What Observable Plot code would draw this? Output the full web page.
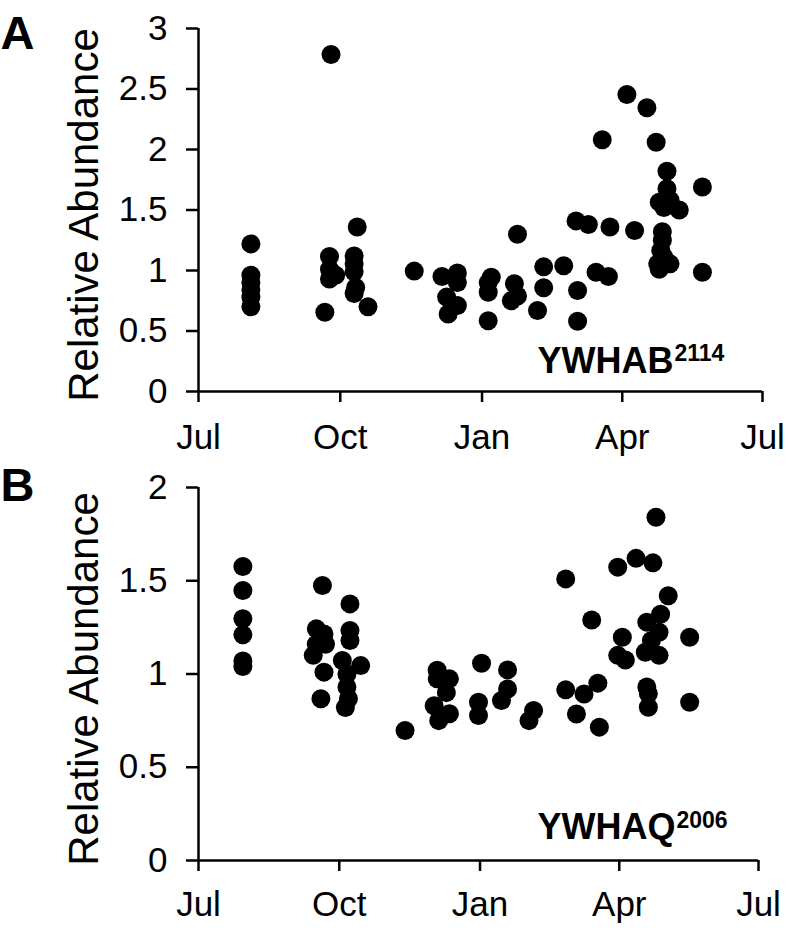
<!DOCTYPE html>
<html>
<head>
<meta charset="utf-8">
<script src="https://cdn.jsdelivr.net/npm/d3@7"></script>
<script src="https://cdn.jsdelivr.net/npm/@observablehq/plot@0.6"></script>
<style>
  html, body { margin: 0; padding: 0; background: #fff; }
  #wrap { width: 788px; }
  #wrap svg { display: block; }
</style>
</head>
<body>
<div id="wrap"></div>
<script>
// ---- Axis ticks ----
const monthTicks = ["2011-07-01", "2011-10-01", "2012-01-01", "2012-04-01", "2012-07-01"];
const yTicksA = [0, 0.5, 1, 1.5, 2, 2.5, 3];
const yTicksB = [0, 0.5, 1, 1.5, 2];

// ---- Panel A: YWHAB (2114) ----
const abDates = [
  "2011-08-04","2011-08-04","2011-08-04","2011-08-04","2011-08-04","2011-08-04",
  "2011-09-21","2011-09-24","2011-09-24","2011-09-24","2011-09-25","2011-09-28",
  "2011-10-10","2011-10-10","2011-10-10","2011-10-10","2011-10-11","2011-10-12","2011-10-19",
  "2011-11-18","2011-12-06","2011-12-09","2011-12-10","2011-12-16","2011-12-16","2011-12-16",
  "2012-01-05","2012-01-05","2012-01-05","2012-01-07","2012-01-24","2012-01-24","2012-01-22","2012-01-20",
  "2012-02-06","2012-02-10","2012-02-10","2012-02-23",
  "2012-03-02","2012-03-03","2012-03-03","2012-03-10","2012-03-15","2012-03-19","2012-03-23","2012-03-24",
  "2012-04-04","2012-04-09","2012-04-17","2012-04-23","2012-04-30","2012-04-30",
  "2012-04-25","2012-04-25","2012-04-28","2012-04-28","2012-05-08","2012-05-02","2012-05-02",
  "2012-04-27","2012-04-27","2012-04-26","2012-04-24","2012-05-23","2012-05-23"
];
const abValues = [
  1.22, 0.96, 0.90, 0.84, 0.78, 0.70,
  0.655, 1.115, 1.01, 0.93, 2.785, 0.96,
  1.12, 1.055, 0.99, 0.81, 0.86, 1.36, 0.70,
  0.995, 0.95, 0.78, 0.64, 0.98, 0.90, 0.71,
  0.90, 0.82, 0.585, 0.945, 1.30, 0.79, 0.89, 0.75,
  0.67, 1.03, 0.857, 1.04,
  1.41, 0.835, 0.58, 1.38, 0.985, 2.08, 0.95, 1.36,
  2.455, 1.33, 2.345, 2.06, 1.82, 1.675,
  1.565, 1.01, 1.52, 1.11, 1.50, 1.58, 1.055,
  1.32, 1.25, 1.165, 1.055, 1.69, 0.985
];

// ---- Panel B: YWHAQ (2006) ----
const aqDates = [
  "2011-07-30","2011-07-30","2011-07-30","2011-07-30","2011-07-30","2011-07-30",
  "2011-09-20","2011-10-08","2011-10-08","2011-10-08","2011-09-16","2011-09-16",
  "2011-09-21","2011-09-21","2011-09-22","2011-09-14","2011-09-19","2011-10-03","2011-10-15",
  "2011-10-06","2011-10-06","2011-10-07","2011-10-05",
  "2011-11-13","2011-12-04","2011-12-04","2011-12-12","2011-12-12","2011-12-10","2011-12-02","2011-12-05",
  "2012-01-02","2011-12-31","2011-12-31","2012-01-19","2012-01-19","2012-01-15","2012-02-05","2012-02-02",
  "2012-02-26","2012-02-26","2012-03-04","2012-03-09","2012-03-14","2012-03-18","2012-03-19",
  "2012-03-31","2012-03-31","2012-04-03","2012-04-05","2012-04-12","2012-04-23","2012-04-25","2012-05-03",
  "2012-04-28","2012-04-19","2012-04-19","2012-04-27","2012-04-27","2012-04-22","2012-04-18",
  "2012-04-20","2012-04-20","2012-05-17","2012-05-17"
];
const aqValues = [
  1.576, 1.448, 1.296, 1.21, 1.07, 1.04,
  1.475, 1.376, 1.233, 1.18, 1.242, 1.16,
  1.215, 1.01, 1.16, 1.10, 0.867, 1.072, 1.045,
  1.0, 0.93, 0.867, 0.82,
  0.697, 1.02, 0.974, 0.974, 0.787, 0.90, 0.83, 0.75,
  1.058, 0.849, 0.777, 1.022, 0.92, 0.858, 0.804, 0.75,
  1.51, 0.915, 0.786, 0.893, 1.29, 0.951, 0.715,
  1.573, 1.10, 1.197, 1.075, 1.62, 1.596, 1.84, 1.42,
  1.32, 1.278, 0.93, 1.224, 1.10, 1.18, 1.117,
  0.894, 0.822, 1.197, 0.849
];

const FONT = "'Liberation Sans', Arial, Helvetica, sans-serif";
const monthFmt = d3.utcFormat("%b");
const ticksX = monthTicks.map(d => new Date(d));

function panel(opts) {
  const rows = opts.dates.map((d, i) => ({date: new Date(d), value: opts.values[i]}));
  return Plot.plot({
    width: 788,
    height: opts.height,
    marginLeft: 198,
    marginRight: opts.marginRight,
    marginTop: opts.marginTop,
    marginBottom: opts.marginBottom,
    style: {fontFamily: FONT, fontSize: "35px", color: "black", background: "white", overflow: "visible"},
    x: {type: "utc", domain: [ticksX[0], ticksX[ticksX.length - 1]]},
    y: {domain: [opts.yTicks[0], opts.yTicks[opts.yTicks.length - 1]]},
    marks: [
      Plot.axisY({ticks: opts.yTicks, tickFormat: d => String(d), tickSize: 12, tickPadding: 19,
                  strokeWidth: 2.5, fontSize: 35, label: null}),
      Plot.axisX({ticks: ticksX, tickFormat: monthFmt, tickSize: 11, tickPadding: opts.xPad,
                  strokeWidth: 2.5, fontSize: 35, label: null}),
      Plot.ruleY([opts.yTicks[0]], {strokeWidth: 2.5}),
      Plot.ruleX([ticksX[0]], {strokeWidth: 2.5}),
      Plot.dot(rows, {x: "date", y: "value", r: 9.5, fill: "black", stroke: "none"}),
      Plot.text(["Relative Abundance"], {frameAnchor: "left", rotate: -90, dx: -101, dy: 5,
                  textAnchor: "middle", lineAnchor: "bottom", fontSize: 42}),
      Plot.text([opts.letter], {frameAnchor: "top-left", dx: -198, dy: opts.letterDy,
                  textAnchor: "start", lineAnchor: "bottom", fontSize: 47, fontWeight: "bold"}),
      Plot.text([opts.gene], {frameAnchor: "bottom-left", dx: 339, dy: opts.geneDy,
                  textAnchor: "start", lineAnchor: "bottom", fontSize: 36, fontWeight: "bold"}),
      Plot.text([opts.sup], {frameAnchor: "bottom-left", dx: opts.supDx, dy: opts.supDy,
                  textAnchor: "start", lineAnchor: "bottom", fontSize: 23, fontWeight: "bold"})
    ]
  });
}

const wrap = document.getElementById("wrap");
wrap.appendChild(panel({
  dates: abDates, values: abValues, yTicks: yTicksA,
  height: 460, marginTop: 28, marginBottom: 69, marginRight: 26, xPad: 22,
  letter: "A", letterDy: 20, gene: "YWHAB", geneDy: -19, sup: "2114", supDx: 476, supDy: -31
}));
wrap.appendChild(panel({
  dates: aqDates, values: aqValues, yTicks: yTicksB,
  height: 470, marginTop: 27, marginBottom: 70, marginRight: 30, xPad: 20,
  letter: "B", letterDy: 13, gene: "YWHAQ", geneDy: -22, sup: "2006", supDx: 478, supDy: -33
}));
</script>
</body>
</html>
